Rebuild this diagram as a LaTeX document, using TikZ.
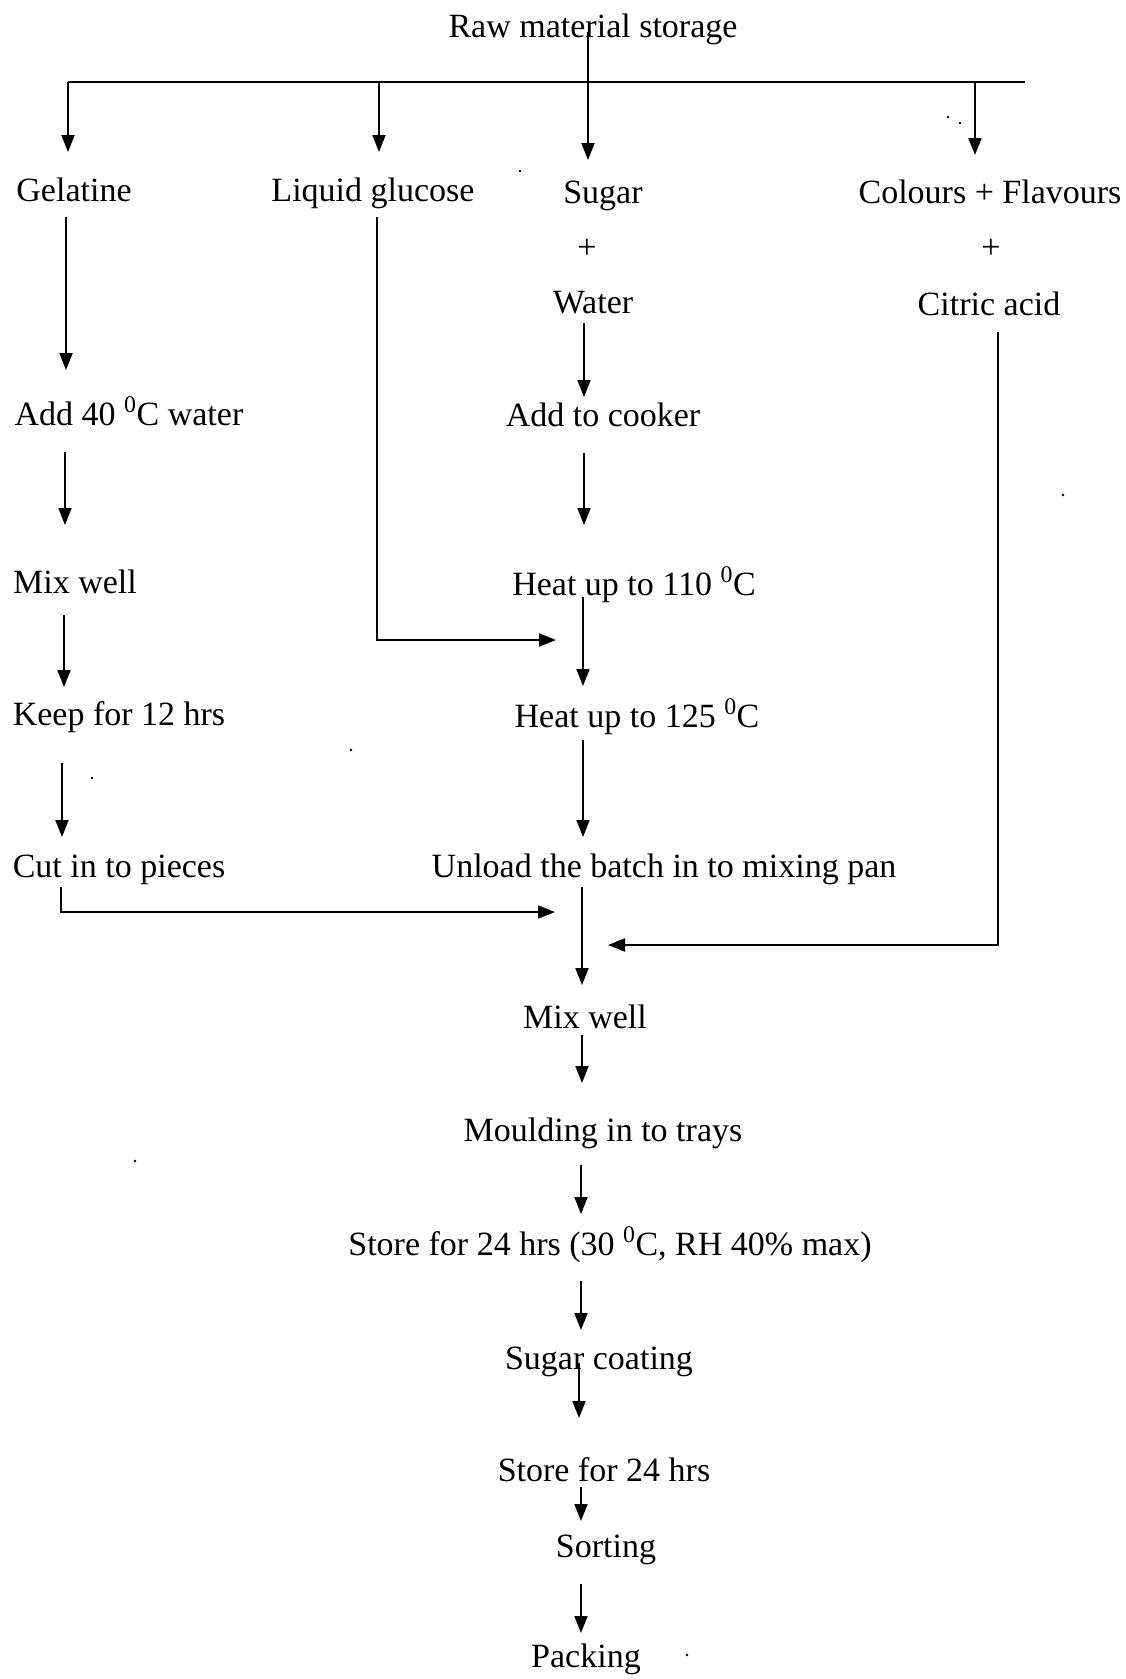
\documentclass[tikz,border=0pt]{standalone}
\usepackage{fontspec}
\setmainfont{Liberation Serif}
\usetikzlibrary{arrows.meta}
\newcommand{\degz}{\raisebox{0.25ex}{\textsuperscript{0}}}
\begin{document}
\begin{tikzpicture}[x=1pt,y=-1pt,
  lbl/.style={anchor=base,inner sep=0pt,font=\fontsize{34}{40}\selectfont},
  flow/.style={line width=2pt,-{Triangle[length=17pt,width=13pt]}},
  plain/.style={line width=2pt},
  thick line/.style={line width=2.6pt},
  speck/.style={fill=black}]
\useasboundingbox (0,0) rectangle (1125,1679);

% ---------- texts ----------
\node[lbl] (raw) at (593,37) {Raw material storage};
\node[lbl] (gel) at (74,201) {Gelatine};
\node[lbl] (liq) at (373,201) {Liquid glucose};
\node[lbl] (sug) at (603,203) {Sugar};
\node[lbl] (col) at (990,203) {Colours + Flavours};
\node[lbl] (plus1) at (587,258) {+};
\node[lbl] (plus2) at (991,258) {+};
\node[lbl] (water) at (593,313) {Water};
\node[lbl] (cit) at (989,315) {Citric acid};
\node[lbl] (add40) at (129,425) {Add 40 \degz C water};
\node[lbl] (cook) at (603,426) {Add to cooker};
\node[lbl] (mix1) at (75,593) {Mix well};
\node[lbl] (h110) at (634,595) {Heat up to 110 \degz C};
\node[lbl] (keep) at (119,725) {Keep for 12 hrs};
\node[lbl] (h125) at (637,727) {Heat up to 125 \degz C};
\node[lbl] (cut) at (119,877) {Cut in to pieces};
\node[lbl] (unload) at (664,877) {Unload the batch in to mixing pan};
\node[lbl] (mix2) at (585,1028) {Mix well};
\node[lbl] (mould) at (603,1141) {Moulding in to trays};
\node[lbl] (store1) at (610,1255) {Store for 24 hrs (30 \degz C, RH 40\% max)};
\node[lbl] (coat) at (599,1369) {Sugar coating};
\node[lbl] (store2) at (604,1481) {Store for 24 hrs};
\node[lbl] (sort) at (606,1557) {Sorting};
\node[lbl] (pack) at (586,1667) {Packing};

% ---------- coordinates ----------
\coordinate (t0) at (588,32);
\coordinate (tj) at (588,82);
\coordinate (hl) at (68,82);
\coordinate (hr) at (1025,82);
\coordinate (hliq) at (379,82);
\coordinate (hcol) at (975,82);
\coordinate (agel) at (68,152);
\coordinate (aliq) at (379,152);
\coordinate (asug) at (588,160);
\coordinate (acol) at (975,155);

\coordinate (g1s) at (66,217);  \coordinate (g1e) at (66,370);
\coordinate (g2s) at (65,452);  \coordinate (g2e) at (65,525);
\coordinate (g3s) at (64,615);  \coordinate (g3e) at (64,687);
\coordinate (g4s) at (62,763);  \coordinate (g4e) at (62,837);
\coordinate (c1s) at (61,887);  \coordinate (c1k) at (61,912);  \coordinate (c1e) at (555,912);

\coordinate (l1s) at (377,217); \coordinate (l1k) at (377,640); \coordinate (l1e) at (556,640);

\coordinate (s1s) at (584,323); \coordinate (s1e) at (584,397);
\coordinate (s2s) at (584,453); \coordinate (s2e) at (584,525);
\coordinate (s3s) at (583,597); \coordinate (s3e) at (583,686);
\coordinate (s4s) at (583,740); \coordinate (s4e) at (583,837);
\coordinate (s5s) at (582,887); \coordinate (s5e) at (582,985);

\coordinate (r1s) at (998,332); \coordinate (r1k) at (998,945); \coordinate (r1e) at (608,945);

\coordinate (m1s) at (582,1035); \coordinate (m1e) at (582,1083);
\coordinate (m2s) at (581,1165); \coordinate (m2e) at (581,1214);
\coordinate (m3s) at (581,1281); \coordinate (m3e) at (581,1330);
\coordinate (m4s) at (579,1363); \coordinate (m4e) at (579,1418);
\coordinate (m5s) at (581,1487); \coordinate (m5e) at (581,1521);
\coordinate (m6s) at (581,1584); \coordinate (m6e) at (581,1633);

% ---------- connectors ----------
\draw[plain] (t0) -- (tj);
\draw[thick line] (hl) -- (hr);
\draw[flow] (hl) -- (agel);
\draw[flow] (hliq) -- (aliq);
\draw[flow] (tj) -- (asug);
\draw[flow] (hcol) -- (acol);

\draw[flow] (g1s) -- (g1e);
\draw[flow] (g2s) -- (g2e);
\draw[flow] (g3s) -- (g3e);
\draw[flow] (g4s) -- (g4e);
\draw[flow] (c1s) -- (c1k) -- (c1e);

\draw[flow] (l1s) -- (l1k) -- (l1e);

\draw[flow] (s1s) -- (s1e);
\draw[flow] (s2s) -- (s2e);
\draw[flow] (s3s) -- (s3e);
\draw[flow] (s4s) -- (s4e);
\draw[flow] (s5s) -- (s5e);

\draw[flow] (r1s) -- (r1k) -- (r1e);

\draw[flow] (m1s) -- (m1e);
\draw[flow] (m2s) -- (m2e);
\draw[flow] (m3s) -- (m3e);
\draw[flow] (m4s) -- (m4e);
\draw[flow] (m5s) -- (m5e);
\draw[flow] (m6s) -- (m6e);

% ---------- specks ----------
\fill[speck] (520,171) circle (1.3);
\fill[speck] (948,117) circle (1.3);
\fill[speck] (960,123) circle (1.3);
\fill[speck] (1063,495) circle (1.3);
\fill[speck] (351,750) circle (1.3);
\fill[speck] (92,778) circle (1.3);
\fill[speck] (135,1161) circle (1.3);
\fill[speck] (687,1655) circle (1.3);
\end{tikzpicture}
\end{document}
